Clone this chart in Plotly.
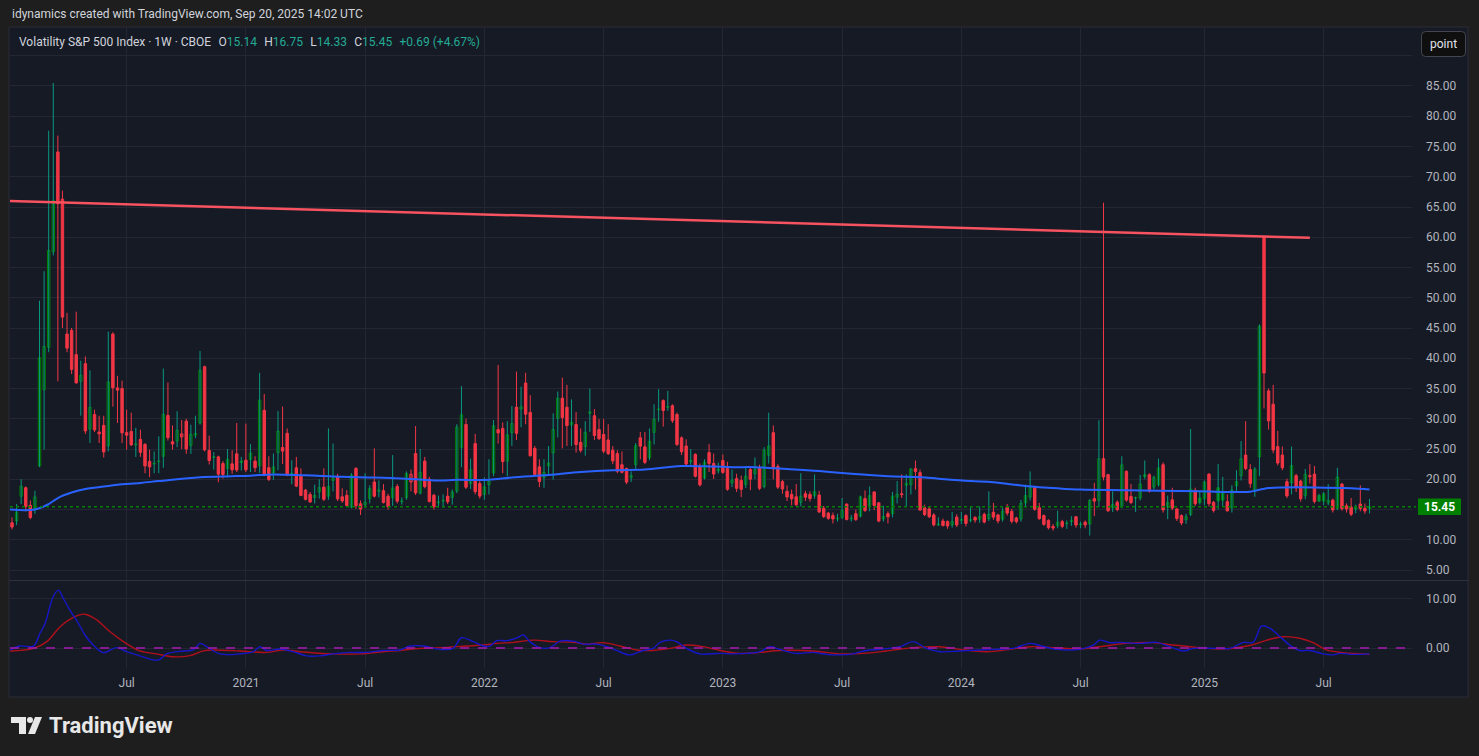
import numpy as np
import pandas as pd
import plotly.graph_objects as go

# ---------------- data (weekly VIX candles, week starting 2020-01-13) ----------------
first_week = "2020-01-13"
prior_close = 12.56  # close of the week before the first visible candle

opens = [
    # 2020
    12.8, 13.1, 17.2, 18.6, 15.7, 15.0, 22.2, 34.8, 41.8, 57.6, 74.1, 66.3, 44.0, 44.6, 40.6, 36.2, 39.1, 28.3,
    30.7, 27.8, 28.9, 25.5, 44.0, 35.1, 35.0, 27.7, 27.9, 25.7, 26.6, 25.75, 22.95, 22.6, 22.9, 23.8, 30.55, 26.2,
    26.3, 27.0, 29.6, 25.6, 27.3, 29.3, 38.6, 24.75, 23.6, 23.7, 22.6, 21.8, 22.55, 24.2, 23.0,
    # 2021
    23.15, 23.25, 23.0, 22.2, 31.4, 21.9, 21.05, 24.4, 25.25, 27.6, 20.9, 21.9, 20.5, 18.2, 17.5, 17.0, 17.9, 18.7,
    17.2, 19.8, 20.5, 17.1, 17.35, 15.4, 21.8, 15.95, 15.8, 16.8, 19.55, 18.0, 18.1, 17.2, 16.95, 18.8, 16.3, 16.95,
    19.55, 24.25, 17.7, 23.0, 20.0, 17.35, 16.1, 16.4, 17.2, 17.0, 18.05, 25.25, 29.05, 19.3, 25.9, 19.3,
    # 2022
    17.5, 19.1, 21.05, 28.2, 28.4, 23.0, 27.7, 31.9, 31.6, 35.9, 31.05, 25.1, 22.05, 20.3, 22.2, 24.35, 30.05, 33.4,
    31.9, 29.0, 29.05, 26.1, 25.4, 30.9, 30.5, 28.2, 27.4, 26.5, 24.8, 24.25, 22.4, 21.8, 20.3, 22.4, 26.85, 25.35,
    23.55, 27.75, 31.5, 33.0, 31.9, 32.15, 30.7, 26.85, 25.5, 22.9, 24.1, 22.15, 20.2, 24.4, 22.6, 21.4,
    # 2023
    23.1, 21.75, 19.4, 20.1, 19.8, 19.1, 21.6, 20.9, 21.9, 18.8, 23.95, 27.7, 22.1, 19.6, 18.0, 17.5, 17.1, 16.2,
    17.6, 17.5, 17.3, 17.4, 15.2, 14.4, 14.0, 13.45, 13.7, 15.9, 13.45, 14.3, 13.9, 16.8, 15.65, 17.9, 16.1, 13.45,
    14.3, 14.3, 17.05, 17.6, 19.0, 19.1, 21.75, 21.1, 15.3, 15.1, 14.1, 12.45, 13.1, 13.0, 12.45, 13.75,
    # 2024
    13.2, 14.0, 13.2, 13.7, 13.4, 14.2, 13.5, 14.55, 14.1, 13.4, 15.4, 14.7, 13.6, 13.45, 16.1, 17.05, 18.6, 15.3,
    14.0, 13.2, 12.2, 12.3, 13.0, 12.65, 13.0, 13.8, 12.5, 12.9, 12.6, 16.8, 16.5, 23.4, 20.75, 15.3, 16.2, 15.5,
    21.3, 17.15, 16.9, 16.9, 20.75, 20.75, 18.7, 19.1, 22.4, 15.4, 16.6, 15.1, 14.0, 13.3, 14.2, 18.15, 16.9, 16.8,
    # 2025
    20.85, 16.2, 18.6, 17.7, 16.3, 15.3, 18.9, 20.6, 24.0, 21.6, 18.1, 23.7, 60.1, 34.6, 32.4, 25.4, 24.0, 19.6,
    19.4, 20.6, 19.7, 17.3, 20.4, 20.85, 17.3, 17.6, 16.1, 16.55, 15.2, 19.2, 15.6, 15.4, 15.05, 15.9, 15.2, 15.14,
]

highs = [
    13.7, 15.9, 20.0, 18.8, 16.5, 18.1, 49.5, 54.4, 77.6, 85.5, 76.8, 67.7, 47.5, 45.0, 47.7, 39.6, 40.3, 38.0,
    31.5, 30.5, 30.5, 44.4, 44.3, 37.1, 36.3, 31.5, 31.0, 28.5, 28.2, 26.0, 24.9, 24.6, 27.1, 38.3, 36.0, 28.9,
    31.25, 29.8, 30.0, 29.0, 30.5, 41.2, 38.8, 27.2, 24.5, 23.9, 23.0, 25.0, 24.8, 29.3, 23.7,
    29.2, 25.8, 23.8, 37.6, 34.1, 23.8, 24.25, 31.3, 32.0, 28.4, 23.15, 23.7, 21.8, 18.4, 17.9, 19.1, 20.0, 21.8,
    28.4, 25.9, 20.9, 18.5, 18.2, 21.0, 22.0, 16.5, 21.0, 19.0, 25.1, 19.8, 19.2, 17.6, 24.0, 19.2, 17.0, 21.3,
    21.6, 28.8, 25.0, 23.7, 20.4, 17.6, 17.3, 17.5, 18.6, 18.3, 29.1, 35.4, 30.0, 23.4, 27.5, 19.8,
    20.3, 23.3, 29.8, 38.9, 29.4, 29.6, 32.1, 37.8, 35.3, 37.6, 33.9, 25.5, 23.3, 23.3, 25.5, 30.9, 34.5, 36.8,
    35.6, 33.2, 31.1, 28.4, 29.6, 35.0, 31.6, 29.95, 29.95, 29.1, 25.5, 24.8, 24.6, 21.9, 21.3, 26.0, 27.8, 27.8,
    28.4, 32.4, 34.9, 33.2, 34.6, 32.4, 31.0, 27.1, 26.6, 25.0, 24.3, 22.6, 23.3, 25.8, 24.25, 22.75,
    24.1, 22.9, 21.6, 20.9, 20.6, 21.9, 22.0, 23.6, 22.4, 25.3, 31.0, 28.9, 22.5, 19.9, 19.0, 18.3, 19.2, 21.0,
    18.1, 18.0, 20.8, 18.1, 15.6, 14.6, 14.5, 14.3, 16.9, 16.0, 14.1, 15.0, 17.3, 18.15, 18.8, 18.0, 16.2, 15.65,
    14.7, 17.9, 19.7, 20.8, 20.8, 21.8, 23.1, 21.6, 15.8, 15.5, 14.4, 13.7, 13.5, 13.2, 14.6, 14.2,
    14.6, 14.2, 15.4, 13.9, 15.5, 14.5, 18.0, 16.1, 14.3, 15.3, 15.9, 15.1, 13.8, 16.6, 19.1, 21.3, 18.8, 16.1,
    14.2, 13.4, 12.6, 14.8, 13.3, 13.2, 13.9, 13.9, 13.0, 13.2, 16.7, 19.4, 29.75, 65.7, 20.9, 18.0, 16.5, 23.8,
    21.5, 19.2, 17.1, 20.7, 23.1, 21.0, 20.6, 23.4, 22.8, 17.3, 18.6, 15.2, 14.2, 14.3, 28.3, 18.6, 18.0, 19.8,
    21.0, 16.4, 22.5, 20.4, 17.5, 19.0, 21.5, 26.3, 29.6, 22.5, 22.0, 45.6, 60.1, 35.0, 35.6, 28.0, 25.4, 20.1,
    25.4, 20.9, 19.9, 21.7, 22.5, 22.2, 17.6, 17.9, 19.2, 16.8, 21.9, 19.4, 16.0, 16.9, 15.8, 19.0, 16.0, 16.75,
]

lows = [
    11.7, 12.4, 15.9, 14.7, 13.4, 14.3, 22.0, 24.9, 41.0, 57.0, 36.2, 45.0, 41.0, 37.4, 35.8, 30.5, 27.5, 26.0,
    27.8, 26.0, 23.6, 24.6, 32.0, 29.3, 26.0, 24.9, 25.5, 23.7, 23.7, 21.0, 20.35, 21.0, 21.0, 21.9, 26.4, 24.9,
    25.3, 25.0, 24.2, 24.2, 26.8, 29.05, 24.6, 22.45, 21.6, 19.5, 20.1, 20.3, 20.9, 21.2, 21.45,
    21.2, 21.2, 21.2, 21.05, 20.5, 19.7, 19.9, 21.5, 22.5, 20.5, 19.2, 18.7, 17.2, 16.5, 16.1, 16.0, 16.8, 16.4,
    16.6, 18.0, 16.4, 16.1, 15.4, 15.2, 15.1, 14.1, 15.3, 16.0, 17.0, 17.0, 16.0, 15.0, 15.6, 16.0, 15.8, 16.6,
    18.0, 17.4, 17.5, 18.5, 16.2, 15.0, 15.3, 15.3, 15.9, 15.8, 17.7, 22.0, 18.4, 18.4, 17.5, 16.8,
    16.6, 17.5, 20.5, 25.9, 21.0, 20.5, 25.5, 26.5, 28.6, 29.1, 23.8, 20.6, 18.7, 18.6, 20.6, 19.95, 26.9, 25.1,
    25.5, 25.5, 24.4, 24.4, 23.9, 27.85, 26.5, 26.5, 24.3, 24.0, 22.5, 21.0, 20.95, 19.2, 19.55, 21.6, 23.3, 22.5,
    23.15, 25.75, 29.5, 28.7, 31.3, 29.3, 25.5, 24.0, 22.3, 22.4, 20.3, 18.8, 19.95, 21.2, 20.05, 20.95,
    20.9, 18.1, 18.7, 17.9, 17.05, 18.55, 18.2, 20.0, 18.2, 18.5, 22.6, 20.0, 18.4, 17.6, 16.4, 15.7, 15.6, 15.5,
    16.4, 16.3, 16.8, 14.4, 13.6, 13.3, 12.7, 13.0, 13.4, 13.2, 13.0, 13.1, 13.7, 14.6, 14.7, 14.9, 12.9, 13.0,
    12.7, 13.7, 16.0, 16.9, 15.5, 17.5, 18.3, 14.8, 13.9, 13.6, 12.2, 12.3, 12.2, 11.8, 12.0, 12.1,
    12.6, 12.2, 12.9, 12.8, 12.8, 12.7, 13.1, 13.3, 12.7, 13.0, 14.0, 12.7, 12.7, 13.0, 15.5, 16.5, 14.8, 13.3,
    12.3, 11.7, 11.5, 11.9, 11.9, 11.8, 12.3, 12.0, 11.9, 11.9, 10.7, 13.9, 15.4, 19.8, 14.6, 14.6, 14.7, 15.2,
    16.3, 15.9, 14.6, 16.5, 20.0, 17.8, 18.3, 18.8, 14.5, 13.4, 14.9, 13.1, 12.4, 12.6, 13.9, 15.6, 15.8, 15.7,
    15.5, 14.5, 15.0, 15.5, 14.7, 14.5, 18.0, 19.8, 21.5, 18.6, 17.1, 20.5, 31.7, 28.2, 24.3, 22.3, 21.5, 16.9,
    17.5, 17.9, 16.3, 16.7, 19.3, 16.0, 16.3, 15.7, 15.7, 14.5, 14.9, 14.8, 14.5, 13.9, 14.4, 14.7, 14.3, 14.33,
]

closes = [
    12.10, 14.56, 18.84, 15.47, 13.68, 17.08, 40.11, 41.94, 57.83, 66.04, 65.54, 46.80, 41.67, 38.15, 35.93, 37.19,
    27.98, 31.89, 28.16, 27.51, 24.52, 36.09, 35.12, 34.73, 27.68, 27.29, 25.68, 25.84, 24.46, 22.21, 22.05, 22.54,
    22.96, 30.75, 26.87, 25.83, 28.1, 27.5, 25.00, 27.41, 27.55, 38.02, 24.86, 23.10, 23.70, 20.84, 20.79, 23.31,
    21.57, 21.53, 22.75,
    21.56, 24.34, 21.91, 33.09, 20.87, 19.97, 22.05, 27.95, 24.66, 20.69, 20.95, 18.86, 17.33, 16.69, 16.25, 17.33,
    18.61, 16.69, 18.81, 20.15, 16.76, 16.42, 15.65, 20.70, 15.62, 15.07, 16.18, 18.45, 17.20, 18.24, 16.15, 15.45,
    18.56, 16.39, 16.41, 20.95, 20.81, 17.75, 21.15, 18.77, 16.30, 15.43, 16.26, 16.48, 16.29, 17.91, 28.62, 30.67,
    18.69, 21.57, 17.96, 17.22,
    18.76, 19.7, 28.85, 27.66, 22.91, 27.36, 29.2, 27.59, 31.98, 30.75, 23.87, 20.81, 19.63, 21.16, 22.70, 28.21,
    33.40, 30.19, 28.87, 29.43, 25.72, 24.79, 27.75, 31.13, 27.23, 26.70, 24.64, 24.23, 23.03, 21.33, 21.15, 19.53,
    20.60, 25.56, 25.47, 22.79, 26.30, 29.92, 31.62, 31.36, 32.02, 29.69, 25.75, 24.55, 22.52, 23.12, 20.50, 19.06,
    22.83, 22.62, 20.87, 21.67,
    21.13, 18.35, 19.85, 18.51, 18.33, 20.53, 20.02, 21.67, 18.49, 24.80, 25.51, 21.74, 18.70, 18.40, 17.07, 16.77,
    15.78, 17.19, 17.03, 16.81, 17.95, 14.60, 13.83, 13.54, 13.44, 13.59, 14.83, 13.34, 13.60, 13.33, 17.10, 14.84,
    17.30, 15.68, 13.09, 13.84, 13.79, 17.20, 17.52, 17.45, 19.32, 21.71, 21.27, 14.91, 14.17, 13.80, 12.46, 12.63,
    12.35, 12.28, 13.03, 12.45,
    13.35, 12.70, 13.30, 13.26, 13.85, 12.93, 14.24, 13.75, 13.11, 14.74, 14.41, 13.06, 13.01, 16.03, 17.31, 18.71,
    15.03, 13.49, 12.55, 11.99, 11.93, 12.92, 12.22, 12.66, 13.20, 12.44, 12.48, 12.46, 16.52, 16.39, 23.39, 20.37,
    14.80, 15.86, 15.00, 22.38, 16.56, 16.15, 16.96, 19.21, 20.46, 18.03, 20.33, 21.88, 14.94, 16.14, 15.24, 13.51,
    12.77, 13.81, 18.36, 15.95, 16.13, 19.54,
    15.97, 14.85, 16.43, 16.54, 14.77, 18.21, 19.63, 23.37, 21.77, 19.28, 21.65, 45.31, 37.56, 29.65, 24.84, 22.68,
    21.90, 17.24, 22.29, 18.57, 16.77, 20.82, 20.62, 16.32, 16.38, 16.40, 16.52, 14.93, 20.38, 15.15, 15.09, 14.22,
    15.36, 15.18, 14.76, 15.45,
]

# moving average (blue line on price pane), read at selected weeks (week offset from first candle)
ma_week = [-0.44, 5, 8, 10, 13, 16, 21, 23, 28, 32, 41, 48, 52, 57, 64, 72, 79, 86, 93, 97, 104, 109, 117, 124,
           131, 138, 143, 146, 153, 157, 162, 169, 176, 183, 191, 198, 202, 209, 214, 221, 228, 233, 243, 250,
           259, 270, 271, 274, 277, 284, 292, 296]
ma_value = [15.0, 15.0, 15.9, 16.9, 17.8, 18.4, 18.9, 19.1, 19.4, 19.7, 20.35, 20.5, 20.6, 20.8, 20.65, 20.4,
            20.3, 20.1, 19.8, 19.9, 19.9, 20.3, 20.7, 21.2, 21.5, 21.6, 22.0, 22.2, 22.1, 22.0, 22.0, 21.7, 21.35,
            20.9, 20.5, 20.35, 20.1, 19.7, 19.5, 18.9, 18.5, 18.3, 18.2, 18.1, 18.0, 17.95, 18.1, 18.55, 18.65,
            18.65, 18.5, 18.3]

# oscillator pane: fast (blue) and slow (red) lines, read at selected weeks
osc_fast_week = [-0.4, 1.7, 4.7, 6.1, 7.2, 9.0, 10.1, 11.2, 12.6, 14.5, 15.9, 17.7, 19.9, 22.8, 25.0, 27.9, 30.8,
                 32.3, 33.7, 37.4, 39.5, 41.0, 42.4, 45.3, 49.7, 52.6, 54.1, 55.5, 58.4, 61.3, 64.2, 67.2, 70.1,
                 73.7, 77.3, 81.0, 84.6, 86.8, 89.7, 93.3, 96.2, 98.0, 100.6, 102.8, 104.2, 105.7, 107.9, 110.0,
                 111.5, 112.9, 115.1, 117.3, 119.5, 122.4, 124.6, 127.5, 129.7, 131.8, 134.7, 137.6, 139.8, 141.3,
                 143.5, 144.9, 147.1, 150.0, 154.4, 157.2, 160.2, 163.1, 165.3, 167.4, 171.0, 174.7, 177.6, 180.5,
                 183.4, 186.3, 189.2, 193.6, 196.5, 199.4, 202.3, 206.7, 211.0, 213.95, 218.3, 222.0, 224.1, 227.8,
                 232.8, 235.8, 237.2, 239.4, 241.6, 246.0, 249.6, 252.5, 255.4, 257.6, 262.6, 265.6, 268.5, 270.6,
                 272.5, 274.3, 276.5, 278.6, 280.8, 283.0, 285.9, 288.1, 289.5, 292.4, 296.0]
osc_fast = [-0.4, 0.4, 0.4, 3.0, 5.0, 10.5, 11.8, 10.1, 7.8, 5.0, 2.65, 0.6, -0.95, 0.07, -0.75, -1.6, -2.45,
            -2.3, -1.2, -0.6, -0.4, 0.95, 0.3, -1.2, -1.2, -0.75, 0.27, -0.5, -0.2, -0.75, -1.6, -1.6, -1.2,
            -0.9, -0.9, -0.5, -0.4, 0.4, 0.4, -0.27, -0.07, 2.1, 1.3, 0.4, 0.4, 1.5, 1.5, 2.0,
            2.65, 1.3, 0.07, 0.07, 1.4, 1.4, 0.8, 0.8, 0.27, -0.5, -1.4, -0.5, -0.07, 1.15,
            1.6, 1.3, -0.07, -1.2, -1.1, -1.2, -1.1, -0.75, 0.27, -0.27, -1.1, -0.9, -1.3, -1.4,
            -1.2, -0.5, -0.27, 0.27, 1.3, -0.07, -0.75, -0.6, -0.4, -0.27, -0.07, 0.95, 0.5, -0.27,
            -0.27, 0.6, 1.6, 1.1, 1.15, 0.95, 1.15, 0.27, -0.6, -0.07, -0.07, -0.07, 1.15, 1.15,
            4.5, 4.0, 2.3, 0.6, -0.5, -0.5, -1.2, -1.4, -1.1, -1.3, -1.2]

osc_slow_week = [-0.4, 4.7, 7.6, 10.5, 13.4, 15.9, 18.5, 21.4, 24.3, 27.9, 31.5, 35.2, 38.8, 41.7, 43.9, 49.7,
                 55.5, 59.2, 62.8, 70.1, 75.9, 81.0, 84.6, 89.0, 93.3, 99.1, 102.8, 105.7, 109.3, 113.7, 118.0,
                 122.4, 125.3, 128.9, 132.6, 136.2, 139.8, 143.5, 147.1, 150.7, 154.4, 158.7, 163.1, 167.4,
                 174.7, 180.5, 185.6, 190.7, 196.5, 202.3, 206.7, 212.5, 217.6, 222.0, 227.0, 232.8, 237.2,
                 243.0, 248.8, 253.2, 259.0, 264.1, 269.9, 273.6, 277.2, 280.8, 283.7, 286.6, 290.2, 296.0]
osc_slow = [-0.6, -0.07, 1.3, 4.35, 6.25, 6.9, 5.7, 3.3, 1.3, -0.6, -1.2, -1.8, -1.55, -0.6, -0.4, -0.6,
            -0.9, -0.4, -0.75, -1.2, -1.2, -0.75, -0.5, -0.07, 0.07, 0.4, 0.6, 0.95, 1.15, 1.6, 1.3,
            1.15, 0.8, 1.1, 0.4, -0.4, -0.5, -0.07, 0.6, 0.27, -0.5, -1.1, -0.9, -0.5,
            -0.6, -1.2, -1.1, -0.6, 0.07, 0.27, -0.27, -0.75, -0.27, 0.27, 0.07, -0.2, 0.27,
            0.95, 1.1, 0.6, 0.07, -0.2, 0.5, 1.6, 2.3, 2.0, 1.1, -0.4, -0.95, -1.3]

# drawn trend line (two anchor points: week offset, value)
trend_week = [-0.44, 283.0]
trend_value = [66.0, 59.9]

# axis labels
time_tick_dates = ["2020-07-06", "2021-01-04", "2021-07-05", "2022-01-03", "2022-07-04", "2023-01-02",
                   "2023-07-03", "2024-01-01", "2024-07-01", "2025-01-06", "2025-07-07"]
time_tick_labels = ["Jul", "2021", "Jul", "2022", "Jul", "2023", "Jul", "2024", "Jul", "2025", "Jul"]
price_ticks = [5, 10, 15, 20, 25, 30, 35, 40, 45, 50, 55, 60, 65, 70, 75, 80, 85, 90]
osc_ticks = [0, 10]

# ---------------- figure ----------------
W, H = 1479, 756
def px(x): return x / W
def py(y): return 1 - y / H

t0 = pd.Timestamp(first_week)
def wk(w): return t0 + pd.to_timedelta(np.asarray(w, dtype=float) * 7, unit="D")

o = np.array(opens); hi = np.array(highs); lo = np.array(lows); c = np.array(closes)
hi = np.maximum.reduce([hi, o, c]); lo = np.minimum.reduce([lo, o, c])
n = len(c)
dates = pd.date_range(t0, periods=n, freq="7D")

GREEN = "#008000"; RED = "#f23645"; TEAL = "#089981"; PANE = "#161a25"
GRID = "#242733"; TXT = "#b2b5be"; FONT = "Roboto"

# hollow-candle style: colour by change vs previous close, hollow body when close > open
prev_c = np.concatenate([[prior_close], c[:-1]])
rising = c >= prev_c
up = c > o
edge = np.where(rising, GREEN, RED)
fill = np.where(up, PANE, edge)

fig = go.Figure()

# wicks
for flag, col in ((True, TEAL), (False, RED)):
    xs, ys = [], []
    for i in np.where(rising == flag)[0]:
        xs += [dates[i], dates[i], None]
        ys += [lo[i], hi[i], None]
    fig.add_trace(go.Scatter(x=xs, y=ys, mode="lines", line=dict(color=col, width=1),
                             hoverinfo="skip", xaxis="x", yaxis="y"))

# bodies
fig.add_trace(go.Bar(x=dates, base=np.minimum(o, c), y=np.maximum(np.abs(c - o), 0.12),
                     width=[3.7 * 86400000] * n,
                     marker=dict(color=list(fill), line=dict(color=list(edge), width=1)),
                     hoverinfo="skip", xaxis="x", yaxis="y"))

# moving average
fig.add_trace(go.Scatter(x=wk(ma_week), y=ma_value, mode="lines", line=dict(color="#2962ff", width=2, shape="spline"),
                         hoverinfo="skip", xaxis="x", yaxis="y"))
# trend line
fig.add_trace(go.Scatter(x=wk(trend_week), y=trend_value, mode="lines", line=dict(color="#f7525f", width=2.5),
                         hoverinfo="skip", xaxis="x", yaxis="y"))
# oscillator
fig.add_trace(go.Scatter(x=wk(osc_slow_week), y=osc_slow, mode="lines",
                         line=dict(color="#b0101c", width=1.4, shape="spline"), hoverinfo="skip",
                         xaxis="x", yaxis="y2"))
fig.add_trace(go.Scatter(x=wk(osc_fast_week), y=osc_fast, mode="lines",
                         line=dict(color="#1717c9", width=1.4, shape="spline"), hoverinfo="skip",
                         xaxis="x", yaxis="y2"))

x_left = wk(-0.436); x_right = wk(305.27)

shapes = [
    dict(type="rect", xref="paper", yref="paper", x0=px(9), x1=px(1468), y0=py(697), y1=py(27),
         fillcolor=PANE, line=dict(color="#2a2d36", width=1), layer="below"),
    dict(type="line", xref="paper", yref="paper", x0=px(9), x1=px(1468), y0=py(580.5), y1=py(580.5),
         line=dict(color="#2f323c", width=1)),
    dict(type="line", xref="paper", yref="y", x0=px(10), x1=px(1416), y0=c[-1], y1=c[-1],
         line=dict(color=GREEN, width=1.5, dash="dot")),
    dict(type="line", xref="paper", yref="y2", x0=px(10), x1=px(1412), y0=0, y1=0,
         line=dict(color="#a51bb0", width=1.3, dash="dash")),
    dict(type="rect", xref="paper", yref="y", x0=px(1418), x1=px(1461), y0=c[-1] - 1.36, y1=c[-1] + 1.36,
         fillcolor=GREEN, line=dict(width=0)),
]
# "point" button (rounded rectangle)
bx0, bx1, by0, by1, r = 1421.5, 1465.5, 31.5, 56.5, 4
pts = (f"M {px(bx0+r)},{py(by0)} L {px(bx1-r)},{py(by0)} Q {px(bx1)},{py(by0)} {px(bx1)},{py(by0+r)} "
       f"L {px(bx1)},{py(by1-r)} Q {px(bx1)},{py(by1)} {px(bx1-r)},{py(by1)} L {px(bx0+r)},{py(by1)} "
       f"Q {px(bx0)},{py(by1)} {px(bx0)},{py(by1-r)} L {px(bx0)},{py(by0+r)} Q {px(bx0)},{py(by0)} {px(bx0+r)},{py(by0)} Z")
shapes.append(dict(type="path", xref="paper", yref="paper", path=pts, fillcolor="#0f0f0f",
                   line=dict(color="#434651", width=1)))
# TradingView logo glyph
def poly(points):
    return "M " + " L ".join(f"{px(a)},{py(b)}" for a, b in points) + " Z"
shapes.append(dict(type="path", xref="paper", yref="paper",
                   path=poly([(11, 717), (26, 717), (26, 734), (19, 734), (19, 723), (11, 723)]),
                   fillcolor="#e8e8e8", line=dict(width=0)))
shapes.append(dict(type="circle", xref="paper", yref="paper", x0=px(27), x1=px(33), y0=py(717), y1=py(723),
                   fillcolor="#e8e8e8", line=dict(width=0)))
shapes.append(dict(type="path", xref="paper", yref="paper",
                   path=poly([(35, 717), (42, 717), (35, 734), (28, 734)]),
                   fillcolor="#e8e8e8", line=dict(width=0)))

gap = "\u2002\u200a"
def lab(k, v):
    return f'<span style="color:#d1d4dc">{k}</span><span style="color:#22ab94">{v}</span>'
chg = c[-1] - c[-2]
legend_txt = (f'<span style="color:#d1d4dc">Volatility S&P 500 Index · 1W · CBOE</span>{gap}'
              + lab("O", f"{o[-1]:.2f}") + gap + lab("H", f"{hi[-1]:.2f}") + gap
              + lab("L", f"{lo[-1]:.2f}") + gap + lab("C", f"{c[-1]:.2f}") + gap
              + f'<span style="color:#22ab94">{chg:+.2f} ({chg / c[-2] * 100:+.2f}%)</span>')

annotations = [
    dict(xref="paper", yref="paper", x=px(10), y=py(13.5), xanchor="left", yanchor="middle", showarrow=False,
         text="idynamics created with TradingView.com, Sep 20, 2025 14:02 UTC",
         font=dict(family=FONT, size=12, color="#d1d4dc")),
    dict(xref="paper", yref="paper", x=px(17), y=py(42), xanchor="left", yanchor="middle", showarrow=False,
         text=legend_txt, font=dict(family=FONT, size=12, color="#d1d4dc")),
    dict(xref="paper", yref="paper", x=px(1443.5), y=py(44), xanchor="center", yanchor="middle", showarrow=False,
         text="point", font=dict(family=FONT, size=12, color="#e0e3eb")),
    dict(xref="paper", yref="y", x=px(1439.5), y=c[-1], xanchor="center", yanchor="middle", showarrow=False,
         text=f"<b>{c[-1]:.2f}</b>", font=dict(family=FONT, size=12, color="#ffffff")),
    dict(xref="paper", yref="paper", x=px(47), y=py(725.5), xanchor="left", yanchor="middle", showarrow=False,
         text="<b>TradingView</b>", font=dict(family=FONT, size=22, color="#e8e8e8")),
]

fig.update_layout(
    width=W, height=H, autosize=False, margin=dict(l=0, r=0, t=0, b=0),
    paper_bgcolor="#1e1e1e", plot_bgcolor="rgba(0,0,0,0)", showlegend=False, hovermode=False,
    bargap=0, shapes=shapes, annotations=annotations,
    xaxis=dict(domain=[px(10), px(1412)], type="date", range=[x_left, x_right], anchor="y2",
               tickvals=time_tick_dates, ticktext=time_tick_labels, showgrid=True, gridcolor=GRID,
               gridwidth=1, zeroline=False, showline=False, ticks="", ticklabelstandoff=6,
               tickfont=dict(family=FONT, size=12, color=TXT)),
    yaxis=dict(domain=[py(580), py(27)], range=[3.35, 94.75], side="right", anchor="x",
               tickvals=price_ticks, ticktext=[f"{v:.2f}" if v <= 85 else "" for v in price_ticks],
               showgrid=True, gridcolor=GRID, zeroline=False, showline=False, ticks="",
               ticklabelstandoff=13, tickfont=dict(family=FONT, size=12, color=TXT)),
    yaxis2=dict(domain=[py(668), py(581)], range=[-4.08, 13.67], side="right", anchor="x",
                tickvals=osc_ticks, ticktext=[f"{v:.2f}" for v in osc_ticks], showgrid=True,
                gridcolor=GRID, zeroline=False, showline=False, ticks="", ticklabelstandoff=13,
                tickfont=dict(family=FONT, size=12, color=TXT)),
)

fig.write_html("out.html", config={"displayModeBar": False, "staticPlot": True},
               post_script="document.body.style.margin='0';document.body.style.overflow='hidden';")
